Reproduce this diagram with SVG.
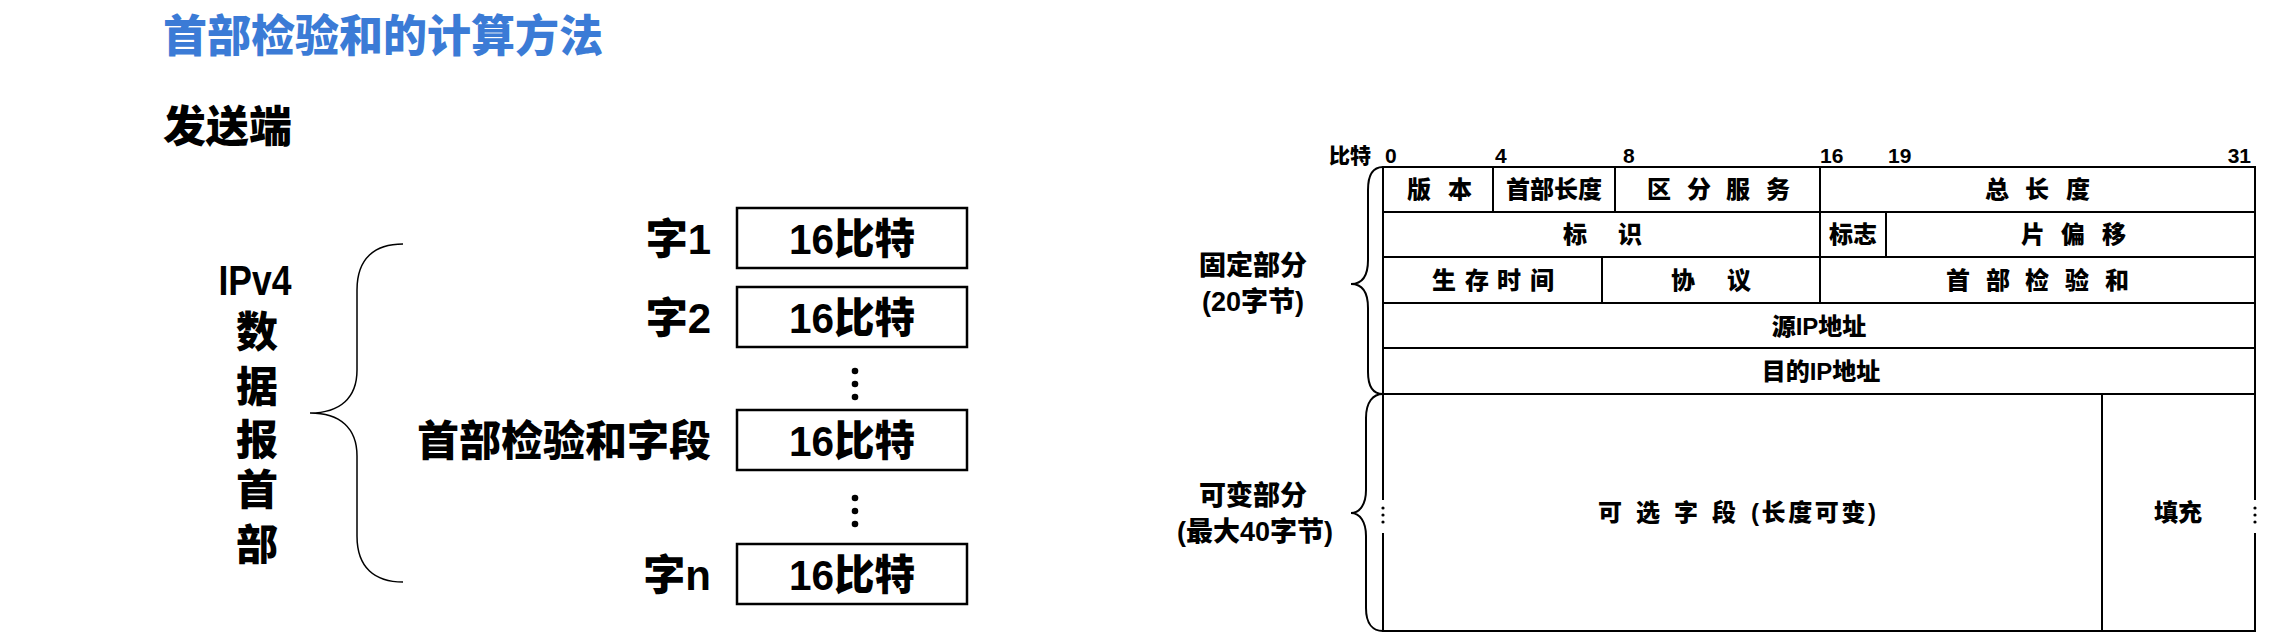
<svg xmlns="http://www.w3.org/2000/svg" width="2288" height="642" viewBox="0 0 2288 642">
<style>
text{font-family:"Liberation Sans","Noto Sans CJK SC",sans-serif;font-weight:900;fill:#000}
.title{font-size:44px;fill:#3b7bd6}
.h2{font-size:43px}
.big{font-size:42px}
.num{font-family:"Liberation Sans Narrow","Liberation Sans","Noto Sans CJK SC",sans-serif}
.bit{font-size:21px}
.cell{font-size:24px}
.side{font-size:27px}
.box{fill:#fff;stroke:#000;stroke-width:2.5}
.tl{fill:none;stroke:#000;stroke-width:2}
.brace{fill:none;stroke:#000;stroke-width:1.5}
.brace2{fill:none;stroke:#000;stroke-width:2}
.mid{text-anchor:middle}
.end{text-anchor:end}
</style>
<rect width="2288" height="642" fill="#fff"/>
<g id="title"><text class="title" x="163" y="52">首部检验和的计算方法</text></g>
<g id="sender"><text class="h2" x="163" y="142">发送端</text></g>

<g id="ipv4-header-label">
<text class="big mid num" x="255" y="295" textLength="73" lengthAdjust="spacingAndGlyphs">IPv4</text>
<text class="big mid" x="257" y="347">数</text>
<text class="big mid" x="257" y="402">据</text>
<text class="big mid" x="257" y="455">报</text>
<text class="big mid" x="257" y="505">首</text>
<text class="big mid" x="257" y="560">部</text>
</g>
<g id="left-brace"><path class="brace" d="M403,244 C375,244 357,258 357,290 L357,370 C357,398 340,413 310,413 C340,413 357,428 357,456 L357,536 C357,568 375,582 403,582"/></g>

<g id="word1"><rect class="box" x="737" y="208" width="230" height="60"/><text class="big mid num" x="852" y="254" textLength="126" lengthAdjust="spacingAndGlyphs">16比特</text><text class="big end num" x="711" y="254">字1</text></g>
<g id="word2"><rect class="box" x="737" y="287" width="230" height="60"/><text class="big mid num" x="852" y="333" textLength="126" lengthAdjust="spacingAndGlyphs">16比特</text><text class="big end num" x="711" y="333">字2</text></g>
<g id="dots1"><circle cx="855" cy="371" r="3.3"/><circle cx="855" cy="384" r="3.3"/><circle cx="855" cy="397" r="3.3"/></g>
<g id="checksum-word"><rect class="box" x="737" y="410" width="230" height="60"/><text class="big mid num" x="852" y="456" textLength="126" lengthAdjust="spacingAndGlyphs">16比特</text><text class="big end" x="711" y="456">首部检验和字段</text></g>
<g id="dots2"><circle cx="855" cy="498" r="3.3"/><circle cx="855" cy="511" r="3.3"/><circle cx="855" cy="524" r="3.3"/></g>
<g id="wordn"><rect class="box" x="737" y="544" width="230" height="60"/><text class="big mid num" x="852" y="590" textLength="126" lengthAdjust="spacingAndGlyphs">16比特</text><text class="big end num" x="711" y="590">字n</text></g>

<g id="bit-scale">
<text class="bit end" x="1371" y="163">比特</text>
<text class="bit num" x="1385" y="163">0</text>
<text class="bit num" x="1495" y="163">4</text>
<text class="bit num" x="1623" y="163">8</text>
<text class="bit num" x="1820" y="163">16</text>
<text class="bit num" x="1888" y="163">19</text>
<text class="bit num end" x="2251" y="163">31</text>
</g>

<g id="ip-table">
<rect class="tl" x="1383" y="167" width="872" height="464"/>
<path class="tl" d="M1383,212H2255M1383,257H2255M1383,303H2255M1383,348H2255M1383,394H2255M1493,167V212M1615,167V212M1820,167V212M1820,212V257M1886,212V257M1602,257V303M1820,257V303M2102,394V631"/>
</g>

<g id="row1">
<text class="cell" x="1407 1448" y="198">版本</text>
<text class="cell mid" x="1554" y="198">首部长度</text>
<text class="cell" x="1647 1687 1726 1766" y="198">区分服务</text>
<text class="cell" x="1985 2025 2066" y="198">总长度</text>
</g>
<g id="row2">
<text class="cell" x="1563 1618" y="243">标识</text>
<text class="cell mid" x="1853" y="243">标志</text>
<text class="cell" x="2021 2061 2102" y="243">片偏移</text>
</g>
<g id="row3">
<text class="cell" x="1432 1465 1497 1530" y="289">生存时间</text>
<text class="cell" x="1671 1727" y="289">协议</text>
<text class="cell" x="1946 1986 2025 2065 2105" y="289">首部检验和</text>
</g>
<g id="row4"><text class="cell mid" x="1819" y="335">源IP地址</text></g>
<g id="row5"><text class="cell mid" x="1821" y="380">目的IP地址</text></g>
<g id="row6">
<text class="cell" x="1598 1636 1674 1712" y="521">可选字段</text>
<text class="cell" x="1751" y="521" textLength="125" lengthAdjust="spacing">(长度可变)</text>
<text class="cell mid" x="2178" y="521">填充</text>
</g>

<g id="ellipsis-left"><rect x="1376" y="500" width="14" height="33" fill="#fff"/><circle cx="1383" cy="508" r="1.6"/><circle cx="1383" cy="515" r="1.6"/><circle cx="1383" cy="522" r="1.6"/></g>
<g id="ellipsis-right"><rect x="2248" y="500" width="14" height="33" fill="#fff"/><circle cx="2255" cy="508" r="1.6"/><circle cx="2255" cy="515" r="1.6"/><circle cx="2255" cy="522" r="1.6"/></g>

<g id="fixed-part">
<path class="brace2" d="M1383,167 C1373,167 1368,175 1368,190 L1368,260 C1368,276 1362,284 1351,284 C1362,284 1368,292 1368,308 L1368,372 C1368,387 1373,394 1383,394"/>
<text class="side mid" x="1253" y="275">固定部分</text>
<text class="side mid num" x="1253" y="311">(20字节)</text>
</g>
<g id="variable-part">
<path class="brace2" d="M1383,394 C1373,394 1366,402 1366,418 L1366,490 C1366,504 1360,513 1351,513 C1360,513 1366,522 1366,536 L1366,608 C1366,624 1373,631 1383,631"/>
<text class="side mid" x="1253" y="505">可变部分</text>
<text class="side mid num" x="1255" y="541">(最大40字节)</text>
</g>
</svg>
